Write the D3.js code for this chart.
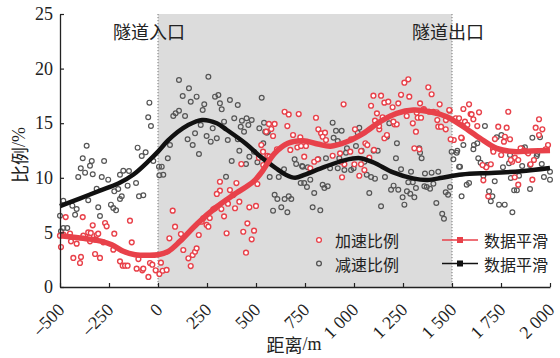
<!DOCTYPE html>
<html><head><meta charset="utf-8">
<script src="https://cdn.jsdelivr.net/npm/d3@7"></script>
<style>
body{margin:0;background:#fff;}
svg{display:block;}
</style></head>
<body>
<svg id="c" width="560" height="358"></svg>
<script>
// ---- data ----
const xTicks = [-500,-250,0,250,500,750,1000,1250,1500,1750,2000];
const yTicks = [0,5,10,15,20,25];
const tunnelRange = [0,1500];
const tunnelLabels = ["隧道入口","隧道出口"];
const seriesNames = ["加速比例","减速比例"];
const smoothName = "数据平滑";
const xTitle = ["距离","/m"];
const yTitle = ["比例","/%"];

// acceleration ratio (red hollow points)
const accelPoints = [
[-471,6.4],[-384,6.4],[-333,5.65],[-270,5.86],[-262,5.56],[-143,6.07],[-500,4.7],[-483,4.8],[-449,4.9],[-381,4.7],
[-356,5.0],[-350,4.55],[-343,4.95],[-313,4.76],[-305,4.88],[-223,4.88],[-495,3.66],[-444,4.18],[-415,3.97],[-347,4.18],
[-321,4.33],[-279,4.09],[-228,3.42],[-134,4.09],[-432,2.66],[-398,2.2],[-393,2.75],[-321,3.02],[-296,2.66],[-194,2.35],
[-180,1.95],[-168,1.95],[-155,1.95],[-109,1.68],[-100,2.56],[-80,1.53],[-75,1.68],[-41,2.2],[-29,2.04],[-49,0.92],[-12,1.53],
[7,1.19],[24,1.49],[44,1.56],[15,2.23],[58,4.46],[75,6.99],[87,5.52],[117,4.85],[129,3.39],[155,2.63],[167,1.92],
[177,2.93],[189,3.23],[197,3.54],[208,4.76],[223,5.98],[231,6.29],[248,5.68],[257,5.52],[282,7.12],[291,7.21],[316,8.82],
[316,9.64],[300,8.52],[350,4.92],[367,8.88],[384,8.42],[393,7.21],[415,7.81],[435,5.06],[449,3.14],[456,5.83],[466,7.3],
[478,4.37],[490,5.16],[500,7.42],[507,9.43],[264,6.32],[337,6.47],[323,7.14],[357,7.63],[400,9.52],
[646,16.05],[667,15.8],[718,15.84],[566,14.93],[595,14.93],[578,14.47],[660,14.74],[552,14.22],[587,13.83],[689,13.92],
[726,13.71],[711,12.79],[675,12.55],[607,12.61],[527,13.0],[536,12.39],[558,12.0],[515,11.84],[425,11.26],[537,11.17],[568,11.93],
[1277,19.02],[1257,18.71],[1099,17.52],[1138,17.52],[1240,17.6],[1282,17.43],[947,16.73],[1087,16.6],[1155,16.88],[1175,16.97],
[1226,16.82],[1337,16.82],[1356,16.3],[1197,16.46],[1117,15.9],[806,15.5],[1107,15.23],[1146,15.54],[1325,15.5],[1342,15.5],
[1300,14.99],[1269,15.66],[1206,14.9],[1218,14.9],[1005,14.44],[1129,14.44],[1316,14.22],[818,14.44],[832,14.07],[852,14.13],
[840,13.76],[857,13.46],[985,13.53],[1155,13.62],[1168,13.92],[1308,12.7],[1333,12.61],[730,12.91],[755,12.91],[746,11.93],
[797,11.47],[815,11.69],[891,12.02],[929,12.24],[981,12.39],[1036,12.45],[1078,11.84],[1058,13.16],[1002,11.24],[1036,11.24],
[951,11.24],[1053,10.71],[777,10.87],[934,11.47],[939,10.05],[1027,10.19],[1379,18.29],[1396,17.65],[1102,12.55],[1068,13.0],
[1128,14.74],[1201,15.14],[1430,14.68],[1468,14.44],[1425,15.29],[1384,16.05],[1405,16.05],[1320,15.96],[1469,15.29],[1444,14.68],
[1509,13.46],[1550,13.62],[1437,16.73],[1357,16.21],[1422,16.0],[1488,16.15],[1519,15.45],[1536,15.45],[1566,15.14],[1578,14.84],
[1629,14.74],[1493,13.53],[1547,13.67],[1558,16.3],[1587,16.73],[1595,15.84],[1609,15.36],[1638,16.0],[1787,16.05],[1736,14.68],
[1779,14.59],[1944,15.36],[1927,14.59],[1961,14.44],[1944,13.92],[1719,13.55],[1770,13.76],[1796,13.53],[1709,12.61],[1850,12.7],
[1867,12.48],[1990,13.0],[1978,12.61],[1751,12.09],[1821,11.84],[1838,11.63],[1807,11.47],[1918,11.63],[1901,11.24],[1698,11.24],
[1675,10.96],[1486,16.21],[1600,15.81],[1881,12.39],[1889,12.24],[1800,11.63],[1656,11.17],[1765,13.31],[1711,12.39],
[1660,9.77],[1820,10.05],[1838,9.37],[1910,9.83],[1685,8.3]
];

// deceleration ratio (grey hollow points)
const decelPoints = [
[-364,12.94],[-384,11.79],[-338,11.54],[-347,11.1],[-394,10.87],[-333,10.32],[-275,11.54],[-104,12.76],[-83,12.0],[-63,12.33],
[-50,15.54],[-44,16.88],[-36,14.74],[-24,11.54],[-372,10.47],[-177,10.65],[-148,10.62],[-407,10.07],[-287,10.07],[-254,9.83],
[-194,10.28],[-155,9.28],[-112,9.52],[-313,9.0],[-223,8.76],[-203,8.97],[-185,8.3],[-194,8.06],[-97,8.3],[-75,8.4],
[-356,7.94],[-240,7.54],[-228,7.23],[-305,7.3],[-214,7.02],[-415,7.14],[-437,7.45],[-500,6.53],[-423,6.62],[-296,6.5],
[-483,5.4],[-463,5.4],[-495,5.1],[-483,7.9],
[5,11.02],[19,11.02],[50,11.79],[61,13.0],[78,15.66],[90,15.9],[107,16.14],[107,18.96],[7,10.23],[27,10.28],
[126,17.49],[138,15.66],[158,18.2],[167,16.97],[197,17.43],[228,16.21],[236,16.73],[257,19.26],[218,14.84],[189,14.07],
[177,13.0],[151,13.53],[209,12.18],[248,13.83],[269,13.31],[291,17.43],[308,17.58],[279,14.53],[300,13.62],[316,16.82],
[325,16.27],[337,15.14],[367,17.12],[356,13.46],[376,11.54],[347,10.1],[389,15.45],[407,16.67],[407,13.53],[422,14.68],
[415,12.48],[452,15.45],[461,14.84],[478,15.29],[466,11.93],[449,11.26],[517,14.53],[529,17.33],[541,15.04],[555,14.13],
[537,13.16],[428,15.23],[439,14.22],[547,14.22],[561,14.22],[490,12.39],[507,11.42],[643,10.78],[697,11.69],[705,11.26],[735,11.08],
[570,10.07],[616,10.07],[728,9.52],[595,8.45],[609,8.06],[646,8.06],[667,8.3],[680,8.06],[629,7.3],[587,6.99],[660,6.84],
[891,15.05],[908,14.31],[937,14.31],[1027,14.59],[1019,14.13],[896,13.67],[917,13.37],[1180,14.99],[1168,13.76],[964,12.7],
[1010,12.91],[959,12.3],[1039,12.48],[1100,12.48],[1121,12.48],[1219,13.16],[1333,12.7],[1214,11.79],[857,11.79],[818,11.69],
[764,10.96],[738,11.02],[917,10.87],[878,10.87],[951,10.71],[985,10.71],[998,10.87],[1053,11.47],[1240,10.78],[1291,10.56],[925,11.79],
[746,9.52],[760,9.16],[777,9.83],[797,8.61],[840,9.37],[849,9.07],[866,9.22],[789,7.3],[828,7.02],[1078,8.61],
[1065,10.28],[1087,10.07],[1107,9.92],[1158,10.07],[1138,7.39],[1189,8.91],[1202,9.28],[1226,8.91],[1248,8.21],[1257,7.54],
[1270,8.76],[1287,8.54],[1308,8.21],[1316,9.07],[1277,9.59],[1300,9.59],[1359,9.22],
[1371,9.16],[1388,9.0],[1405,9.46],[1420,7.69],[1450,6.71],[1459,6.25],[1468,8.67],[1480,8.45],[1490,9.16],
[1337,12.3],[1345,11.79],[1362,10.4],[1396,10.47],[1430,10.56],[1498,12.39],[1524,12.3],[1541,11.02],
[1549,8.3],[1575,9.37],[1587,9.52],[1660,10.19],[1689,8.76],[1698,7.85],[1706,8.3],[1718,9.68],[1740,7.54],[1769,7.54],
[1800,9.98],[1808,6.84],[1817,8.85],[1831,8.85],[1842,10.19],[1898,8.97],[1969,10.07],[2000,9.83],
[1668,14.74],[1728,13.71],[1752,13.92],[1910,13.67],[1558,13.0],[1612,13.0],[1629,13.16],[1609,12.61],[1527,12.48],
[1507,11.69],[1634,11.79],[1646,11.38],[1668,11.08],[1680,11.17],[1536,11.02],[1760,10.96],[1791,11.33],[1859,12.7],[1872,12.79],
[1858,11.08],[1898,11.17],[1935,12.18],[1958,11.26],[1796,12.09],[1949,13.71],[1932,12.0],[2000,10.56]
];

// smoothed curves
const accelSmooth = [
[-500,4.7],[-440,4.58],[-356,4.4],[-287,4.18],[-236,3.87],[-177,3.27],[-117,2.96],[-50,2.9],[0,2.95],[53,3.27],
[112,4.18],[200,5.8],[300,7.35],[384,8.42],[486,9.64],[527,10.47],[595,12.24],[663,13.16],[740,13.4],[815,13.1],
[880,12.9],[963,13.3],[1048,14.07],[1133,15.14],[1218,15.9],[1303,16.2],[1388,16.05],[1473,15.6],[1558,14.68],
[1643,13.62],[1728,12.7],[1813,12.4],[1900,12.45],[2000,12.5]
];
const decelSmooth = [
[-500,7.4],[-400,8.1],[-300,8.8],[-200,9.5],[-125,10.3],[-50,11.5],[0,12.4],[50,13.4],[100,14.2],[150,14.8],
[225,15.3],[300,15.0],[350,14.4],[450,13.1],[525,11.9],[600,10.9],[650,10.3],[700,10.0],[750,10.3],[850,11.0],
[950,11.6],[1030,11.8],[1100,11.4],[1200,10.5],[1300,9.95],[1375,9.8],[1450,10.0],[1550,10.3],[1700,10.45],
[1850,10.6],[2000,10.9]
];

// ---- drawing ----
const RED = "#e8414a", BLACK = "#111", GREY = "#555";
const svg = d3.select("#c");
const x = d3.scaleLinear().domain([-500,2000]).range([60,550]);
const y = d3.scaleLinear().domain([0,25]).range([287,14]);

// tunnel shading
svg.append("rect").attr("x",x(tunnelRange[0])).attr("y",y(25))
  .attr("width",x(tunnelRange[1])-x(tunnelRange[0])).attr("height",y(0)-y(25))
  .attr("fill","#dcdcdc");
tunnelRange.forEach(v=>{
  svg.append("line").attr("x1",x(v)).attr("x2",x(v)).attr("y1",y(25)).attr("y2",y(0))
    .attr("stroke","#777").attr("stroke-width",1).attr("stroke-dasharray","1.2,1.8");
});

const cjk = "'Noto Sans CJK SC', sans-serif";
const serif = "'Liberation Serif','Times New Roman',serif";

svg.append("text").attr("x",113).attr("y",31).attr("dominant-baseline","central")
  .attr("font-family",cjk).attr("font-size",18).attr("fill","#222").text(tunnelLabels[0]);
svg.append("text").attr("x",412).attr("y",31).attr("dominant-baseline","central")
  .attr("font-family",cjk).attr("font-size",18).attr("fill","#222").text(tunnelLabels[1]);

// points
svg.append("g").selectAll("circle").data(decelPoints).join("circle")
  .attr("cx",d=>x(d[0])).attr("cy",d=>y(d[1])).attr("r",2.4)
  .attr("fill","none").attr("stroke",GREY).attr("stroke-width",1.2);
svg.append("g").selectAll("circle").data(accelPoints).join("circle")
  .attr("cx",d=>x(d[0])).attr("cy",d=>y(d[1])).attr("r",2.4)
  .attr("fill","#fff").attr("stroke",RED).attr("stroke-width",1.4);

// smooth lines
const line = d3.line().x(d=>x(d[0])).y(d=>y(d[1])).curve(d3.curveCatmullRom.alpha(0.5));
svg.append("path").datum(decelSmooth).attr("d",line).attr("fill","none")
  .attr("stroke",BLACK).attr("stroke-width",4.5).attr("stroke-linejoin","round");
svg.append("path").datum(accelSmooth).attr("d",line).attr("fill","none")
  .attr("stroke",RED).attr("stroke-width",5.5).attr("stroke-linejoin","round");

// axes
const fmt = d => d<0 ? "\u2013"+Math.abs(d) : (d>=1000 ? d3.format(",")(d).replace(","," ") : String(d));
const xAxis = svg.append("g").attr("transform",`translate(0,${y(0)})`)
  .call(d3.axisBottom(x).tickValues(xTicks).tickSizeInner(-4).tickSizeOuter(0).tickFormat(fmt));
xAxis.select(".domain").attr("stroke","#222").attr("stroke-width",1.3);
xAxis.selectAll(".tick line").attr("stroke","#222").attr("stroke-width",1.2);
xAxis.selectAll(".tick text").attr("font-family",serif).attr("font-size",18).attr("fill","#222")
  .attr("text-anchor","end").attr("y",0).attr("dy",0)
  .attr("transform","translate(5,24) rotate(-45)");

const yAxis = svg.append("g").attr("transform",`translate(${x(-500)},0)`)
  .call(d3.axisLeft(y).tickValues(yTicks).tickSizeInner(-4).tickSizeOuter(0).tickPadding(7));
yAxis.select(".domain").attr("stroke","#222").attr("stroke-width",1.3);
yAxis.selectAll(".tick line").attr("stroke","#222").attr("stroke-width",1.2);
yAxis.selectAll(".tick text").attr("font-family",serif).attr("font-size",18).attr("fill","#222");

// axis titles
const xt = svg.append("text").attr("x",294).attr("y",344).attr("text-anchor","middle").attr("dominant-baseline","central")
  .attr("font-size",18).attr("fill","#222");
xt.append("tspan").attr("font-family",cjk).text(xTitle[0]);
xt.append("tspan").attr("font-family",serif).text(xTitle[1]);
const yt = svg.append("text").attr("transform","translate(19,155) rotate(-90)").attr("text-anchor","middle")
  .attr("dominant-baseline","central").attr("font-size",18).attr("fill","#222");
yt.append("tspan").attr("font-family",cjk).text(yTitle[0]);
yt.append("tspan").attr("font-family",serif).text(yTitle[1]);

// legend
const lg = svg.append("g");
const rows = [{c:RED, fill:"#fff", y:240},{c:GREY, fill:"none", y:263.5}];
rows.forEach((r,i)=>{
  lg.append("circle").attr("cx",319).attr("cy",r.y).attr("r",2.4).attr("fill",r.fill)
    .attr("stroke",r.c).attr("stroke-width",1.3);
  lg.append("text").attr("x",335).attr("y",r.y).attr("dominant-baseline","central")
    .attr("font-family",cjk).attr("font-size",16).attr("fill","#222").text(seriesNames[i]);
  const lc = i===0?RED:BLACK;
  lg.append("line").attr("x1",442).attr("x2",478).attr("y1",r.y).attr("y2",r.y)
    .attr("stroke",lc).attr("stroke-width",1.5);
  lg.append("rect").attr("x",457).attr("y",r.y-3).attr("width",6).attr("height",6).attr("fill",lc);
  lg.append("text").attr("x",484).attr("y",r.y).attr("dominant-baseline","central")
    .attr("font-family",cjk).attr("font-size",16).attr("fill","#222").text(smoothName);
});
</script>
</body></html>
